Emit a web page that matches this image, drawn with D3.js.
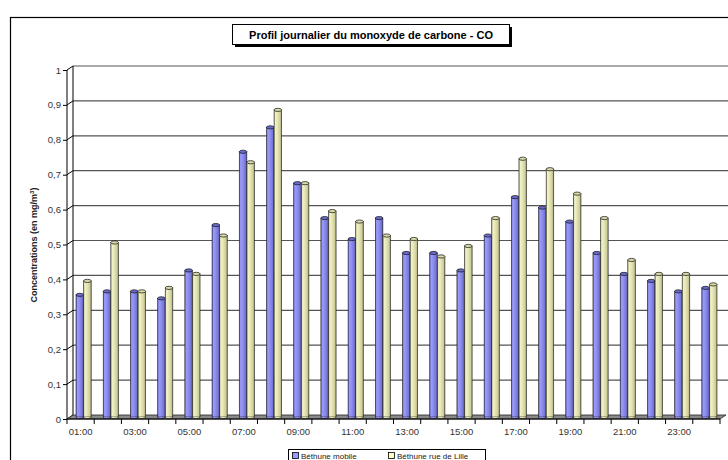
<!DOCTYPE html>
<html>
<head>
<meta charset="utf-8">
<script src="https://cdn.jsdelivr.net/npm/d3@7"></script>
<style>
  html, body { margin: 0; padding: 0; background: #fff; }
  svg { display: block; font-family: Arial, "Liberation Sans", sans-serif; }
</style>
</head>
<body>
<svg id="chart" width="728" height="460"></svg>
<script>
// Hourly CO profile, two measuring stations
const hours = ["01:00","02:00","03:00","04:00","05:00","06:00","07:00","08:00","09:00","10:00","11:00","12:00",
               "13:00","14:00","15:00","16:00","17:00","18:00","19:00","20:00","21:00","22:00","23:00","24:00"];
const bethuneMobile = [0.35,0.36,0.36,0.34,0.42,0.55,0.76,0.83,0.67,0.57,0.51,0.57,
                       0.47,0.47,0.42,0.52,0.63,0.60,0.56,0.47,0.41,0.39,0.36,0.37];
const bethuneLille  = [0.39,0.50,0.36,0.37,0.41,0.52,0.73,0.88,0.67,0.59,0.56,0.52,
                       0.51,0.46,0.49,0.57,0.74,0.71,0.64,0.57,0.45,0.41,0.41,0.38];
const seriesNames = ["Béthune mobile", "Béthune rue de Lille"];
const yTicks = [0,0.1,0.2,0.3,0.4,0.5,0.6,0.7,0.8,0.9,1];

(function draw() {
const svg = d3.select("#chart");
const plotLeft = 67, plotRight = 720, plotTop = 70, plotBottom = 419;
const depthX = 6, depthY = -4;

const x = d3.scaleBand().domain(hours).range([plotLeft, plotRight]).paddingInner(0).paddingOuter(0);
const y = d3.scaleLinear().domain([0, 1]).range([plotBottom, plotTop]);
const fmt = v => d3.format(".1~f")(v).replace(".", ",");

// gradients for the cylinders
const defs = svg.append("defs");
function grad(id, stops) {
  const g = defs.append("linearGradient").attr("id", id).attr("x1", "0%").attr("x2", "100%");
  stops.forEach(([o, c]) => g.append("stop").attr("offset", o).attr("stop-color", c));
}
grad("gBlue", [["0%","#5a5ab8"],["18%","#9a9af8"],["45%","#8f8ff0"],["80%","#7676d8"],["100%","#4a4a98"]]);
grad("gCream", [["0%","#a8a880"],["18%","#f2f2c8"],["45%","#e6e6b6"],["80%","#cfcf9c"],["100%","#8c8c66"]]);

// outer frame
svg.append("rect").attr("x", 10.5).attr("y", 17.5).attr("width", 730).attr("height", 460)
  .attr("fill", "none").attr("stroke", "#000").attr("stroke-width", 1.2);

// back wall gridlines
svg.append("g").selectAll("line").data(yTicks.filter(v => v > 0)).join("line")
  .attr("x1", plotLeft + depthX).attr("x2", 728)
  .attr("y1", d => y(d) + depthY).attr("y2", d => y(d) + depthY)
  .attr("stroke", "#555").attr("stroke-width", 1.2);

// side wall: back edge, depth connectors
svg.append("line").attr("x1", plotLeft + depthX).attr("x2", plotLeft + depthX)
  .attr("y1", y(1) + depthY).attr("y2", y(0) + depthY).attr("stroke", "#000").attr("stroke-width", 1);
svg.append("g").selectAll("line").data(yTicks).join("line")
  .attr("x1", plotLeft).attr("x2", plotLeft + depthX)
  .attr("y1", d => y(d)).attr("y2", d => y(d) + depthY)
  .attr("stroke", "#000").attr("stroke-width", 1);

// floor
svg.append("path")
  .attr("d", `M${plotLeft},${y(0)} L${plotRight},${y(0)} L${plotRight + depthX},${y(0) + depthY} L${plotLeft + depthX},${y(0) + depthY} Z`)
  .attr("fill", "#8a8a8a").attr("stroke", "#222").attr("stroke-width", 0.8);

// cylinders
const bw = 7.6;
const series = [
  { values: bethuneMobile, fill: "url(#gBlue)", cap: "#6a6acc", off: 0 },
  { values: bethuneLille, fill: "url(#gCream)", cap: "#d8d8a8", off: 1 }
];
const cx0 = d => x(d) + x.bandwidth() / 2 + depthX / 2 - bw;
const base = y(0) + depthY / 2;
series.forEach(s => {
  const g = svg.append("g");
  const data = hours.map((h, i) => ({ h, v: s.values[i] }));
  g.selectAll("rect").data(data).join("rect")
    .attr("x", d => cx0(d.h) + s.off * bw)
    .attr("y", d => y(d.v) + depthY / 2)
    .attr("width", bw)
    .attr("height", d => base - (y(d.v) + depthY / 2))
    .attr("fill", s.fill).attr("stroke", "#222").attr("stroke-width", 0.6);
  g.selectAll("path.bot").data(data).join("path").attr("class", "bot")
    .attr("d", d => {
      const x0 = cx0(d.h) + s.off * bw, yb = base;
      return `M${x0},${yb} A${bw / 2},1.6 0 0 0 ${x0 + bw},${yb}`;
    })
    .attr("fill", s.fill).attr("stroke", "#222").attr("stroke-width", 0.6);
  g.selectAll("ellipse").data(data).join("ellipse")
    .attr("cx", d => cx0(d.h) + s.off * bw + bw / 2)
    .attr("cy", d => y(d.v) + depthY / 2)
    .attr("rx", bw / 2).attr("ry", 1.6)
    .attr("fill", s.cap).attr("stroke", "#111").attr("stroke-width", 0.7);
});

// y axis (front edge)
const yAxis = d3.axisLeft(y).tickValues(yTicks).tickFormat(fmt).tickSize(4).tickPadding(2);
const ya = svg.append("g").attr("transform", `translate(${plotLeft},0)`).call(yAxis);
ya.select(".domain").attr("stroke", "#000").attr("d", `M-0,${y(1)}V${y(0)}`);
ya.selectAll("text").attr("font-size", 9.5).attr("fill", "#333").attr("font-family", "Arial, 'Liberation Sans', sans-serif");

// x axis
const xAxis = d3.axisBottom(x).tickSize(0).tickPadding(9)
  .tickFormat((d, i) => i % 2 === 0 ? d : "");
const xa = svg.append("g").attr("transform", `translate(0,${y(0)})`).call(xAxis);
xa.select(".domain").attr("stroke", "#000").attr("d", `M${plotLeft},0H${plotRight}`);
xa.selectAll("text").attr("font-size", 9.5).attr("fill", "#333").attr("font-family", "Arial, 'Liberation Sans', sans-serif");
// ticks between categories
const bounds = hours.map(h => x(h)).concat([plotRight]);
xa.append("g").selectAll("line").data(bounds).join("line")
  .attr("x1", d => d).attr("x2", d => d).attr("y1", 0).attr("y2", 5)
  .attr("stroke", "#000");

// y axis title
svg.append("text")
  .attr("transform", `translate(37,245) rotate(-90)`)
  .attr("text-anchor", "middle").attr("font-size", 9).attr("font-weight", "bold").attr("fill", "#222")
  .call(t => {
    t.append("tspan").text("Concentrations (en mg/m");
    t.append("tspan").attr("dy", -3.5).attr("font-size", 6).text("3");
    t.append("tspan").attr("dy", 3.5).text(")");
  });

// chart title with shadowed box
const titleG = svg.append("g");
titleG.append("rect").attr("x", 235).attr("y", 27).attr("width", 277).attr("height", 20).attr("fill", "#000");
titleG.append("rect").attr("x", 232.5).attr("y", 24.5).attr("width", 277).attr("height", 20)
  .attr("fill", "#fff").attr("stroke", "#000").attr("stroke-width", 1);
titleG.append("text").attr("x", 371).attr("y", 38.5).attr("text-anchor", "middle")
  .attr("font-size", 11).attr("font-weight", "bold").attr("fill", "#000")
  .text("Profil journalier du monoxyde de carbone - CO");

// legend
const lg = svg.append("g");
lg.append("rect").attr("x", 288.5).attr("y", 449.5).attr("width", 197).attr("height", 14)
  .attr("fill", "#fff").attr("stroke", "#000").attr("stroke-width", 1);
const legendColors = ["#9999ff", "#ffffcc"];
const lx = [292, 388];
seriesNames.forEach((n, i) => {
  lg.append("rect").attr("x", lx[i] + 0.5).attr("y", 452.5).attr("width", 6).attr("height", 6)
    .attr("fill", legendColors[i]).attr("stroke", "#000").attr("stroke-width", 0.8);
  lg.append("text").attr("x", lx[i] + 9).attr("y", 458.5).attr("font-size", 8).attr("fill", "#222").text(n);
});
})();
</script>
</body>
</html>
